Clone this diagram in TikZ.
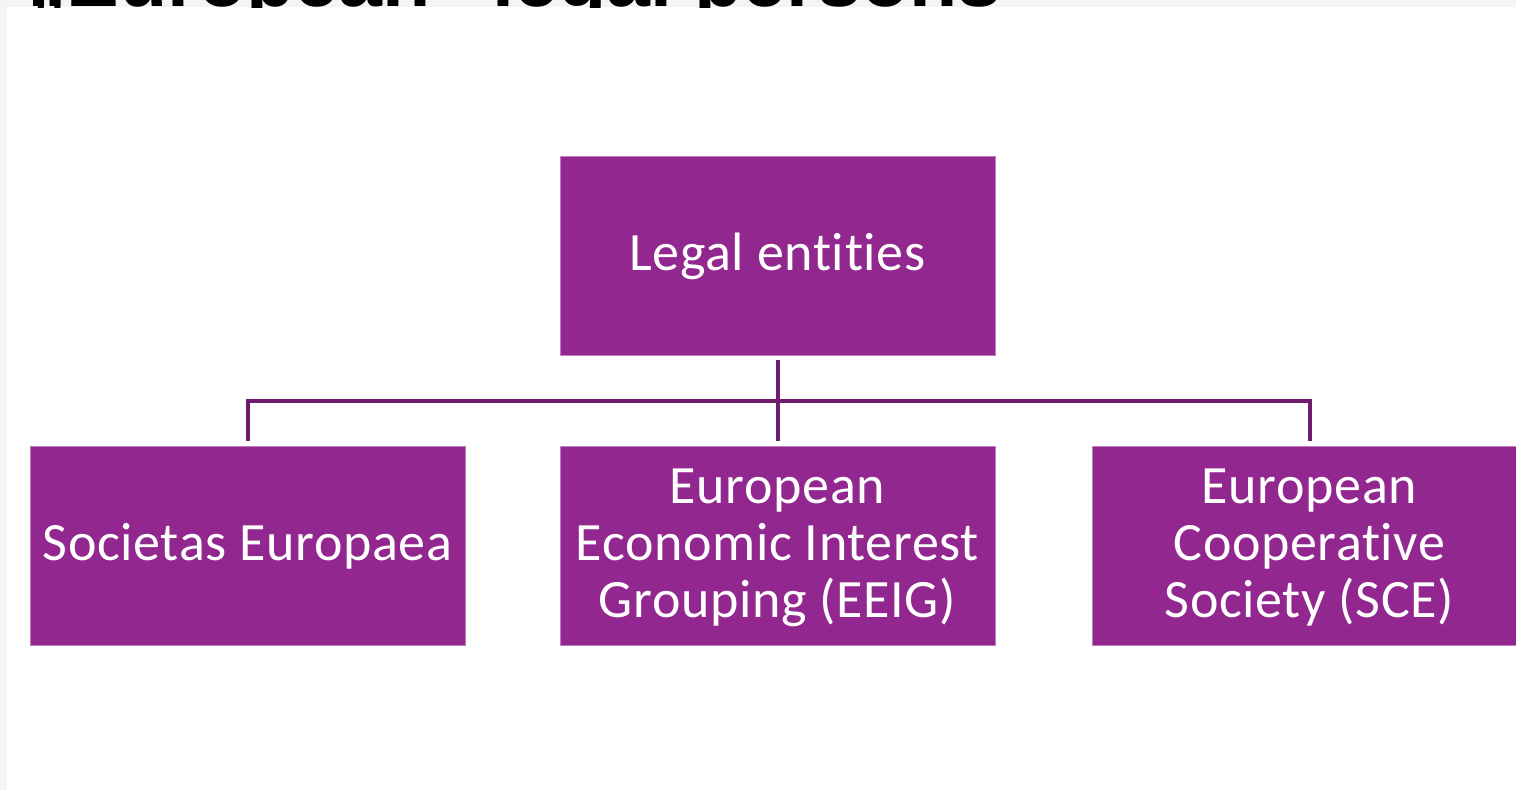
\documentclass[tikz,border=0pt]{standalone}
\usepackage{fontspec}
\setmainfont{Carlito}[Ligatures={NoCommon,NoContextual}, LetterSpace=1.2]
\newfontfamily\titlefont{Liberation Sans}
\definecolor{boxpurple}{HTML}{92278F}
\definecolor{linepurple}{HTML}{701B6E}
\definecolor{bandgray}{HTML}{F4F4F4}
\newcommand{\boxtext}[1]{\raisebox{-4pt}[\height][\depth]{\begin{tabular}{@{}c@{}}#1\end{tabular}}}
\begin{document}
\begin{tikzpicture}[x=1pt,y=-1pt,
  entity/.style={fill=boxpurple, draw=boxpurple!60!white, line width=0.8pt,
    minimum width=435pt, minimum height=199pt, inner sep=0pt,
    text=white, align=center, font=\fontsize{54}{57}\selectfont},
  conn/.style={draw=linepurple, line width=4pt}]
\useasboundingbox (0,0) rectangle (1516,790);
\fill[bandgray] (0,0) rectangle (1516,790);
\fill[white] (7,7) rectangle (1516,790);
\begin{scope}
  \clip (0,0) rectangle (1516,7);
  \node[anchor=base west, inner sep=0pt, font=\titlefont\bfseries\fontsize{79}{90}\selectfont] (title) at (27,6) {„European“ legal persons};
\end{scope}
\node[entity] (top) at (777.5,255.5) {\boxtext{Legal entities}};
\node[entity] (sea) at (247.5,545.5) {\boxtext{Societas Europaea}};
\node[entity] (eeig) at (777.5,545.5) {\boxtext{European\\Economic Interest\\Grouping (EEIG)}};
\node[entity] (sce) at (1309.5,545.5) {\boxtext{European\\Cooperative\\Society (SCE)}};
\coordinate (bus) at (0,401);
\draw[conn, shorten <=5pt] (top.south) -- (top.south |- bus);
\draw[conn, shorten >=5pt] (top.south |- bus) -| (sea.north);
\draw[conn, shorten >=5pt] (top.south |- bus) -| (sce.north);
\draw[conn, shorten >=5pt] (top.south |- bus) -- (eeig.north);
\end{tikzpicture}
\end{document}
